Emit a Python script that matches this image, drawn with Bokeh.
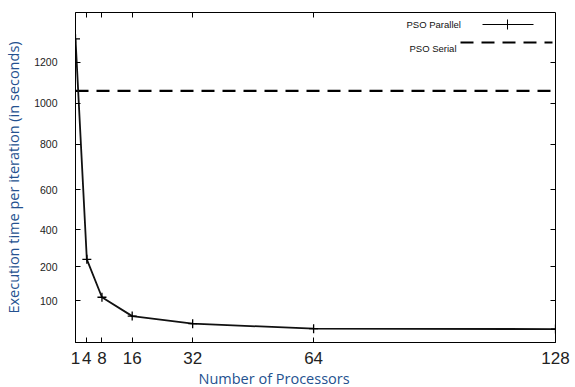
import numpy as np
from bokeh.plotting import figure
from bokeh.models import (Range1d, FixedTicker, CustomJSTransform, ColumnDataSource,
                          Label, Arrow, Title, LinearAxis)
from bokeh.transform import transform
from bokeh.embed import file_html
from bokeh.resources import INLINE

# ---- data ----
processors = [1, 4, 8, 16, 32, 64, 128]
pso_parallel = [1315, 240, 110, 63, 45, 33, 32]
pso_serial_time = 1060
x_ticks = [1, 4, 8, 16, 32, 64, 128]
y_tick_labels = [100, 200, 400, 600, 800, 1000, 1200]

# piecewise-linear value scale of the original axis (value -> axis units)
scale_values = [0, 100, 200, 400, 600, 800, 1000, 1200, 1400]
scale_units = [0, 42, 76, 113, 153, 199, 240, 281, 322]

ymap = CustomJSTransform(args=dict(kv=scale_values, kd=scale_units), v_func="""
const out = new Array(xs.length)
for (let i = 0; i < xs.length; i++) {
  const v = xs[i]
  let j = 0
  while (j < kv.length - 2 && v > kv[j+1]) j++
  out[i] = kd[j] + (v - kv[j]) * (kd[j+1] - kd[j]) / (kv[j+1] - kv[j])
}
return out
""")

src_par = ColumnDataSource(dict(x=processors, y=pso_parallel))
src_ser = ColumnDataSource(dict(x=[processors[0], processors[-1]],
                                y=[pso_serial_time, pso_serial_time]))

p = figure(width=575, height=387, output_backend="svg", toolbar_location=None,
           x_range=Range1d(1, 128), y_range=Range1d(0, 331),
           min_border_left=75, min_border_right=20, min_border_top=12, min_border_bottom=44)
p.xgrid.visible = False
p.ygrid.visible = False
p.outline_line_color = "black"
p.outline_line_width = 1
p.background_fill_color = "white"

p.line('x', transform('y', ymap), source=src_ser, line_color="black", line_width=2.2,
       line_dash="13 8")
p.line('x', transform('y', ymap), source=src_par, line_color="#111111", line_width=1.8)
p.scatter('x', transform('y', ymap), source=src_par, marker="cross", size=9,
          line_color="black", line_width=1.3)

# x axis
xa = p.xaxis[0]
xa.ticker = FixedTicker(ticks=x_ticks)
xa.major_tick_in = 5
xa.major_tick_out = 0
xa.minor_tick_line_color = None
xa.major_label_text_font = "Liberation Sans"
xa.major_label_text_font_size = "17px"
xa.major_label_text_color = "#222222"
xa.major_label_standoff = 9
xa.axis_line_color = "black"

# y axis
ya = p.yaxis[0]
y_tick_pos = list(np.interp(y_tick_labels, scale_values, scale_units))
ya.ticker = FixedTicker(ticks=y_tick_pos)
ya.major_label_overrides = {float(t): str(l) for t, l in zip(y_tick_pos, y_tick_labels)}
ya.major_tick_in = 5
ya.major_tick_out = 0
ya.minor_tick_line_color = None
ya.major_label_text_font = "Liberation Sans"
ya.major_label_text_font_size = "10.5px"
ya.major_label_text_color = "#222222"
ya.major_label_standoff = 18
ya.axis_label = "Execution time per iteration (in seconds)"
ya.axis_label_text_font = "Open Sans"
ya.axis_label_text_font_style = "normal"
ya.axis_label_text_font_size = "14.5px"
ya.axis_label_text_color = "#24518f"
ya.axis_label_standoff = 8

# mirror tick marks on the top and right borders (gnuplot style)
top_ax = LinearAxis(ticker=FixedTicker(ticks=x_ticks[1:-1]), major_tick_in=5,
                    major_tick_out=0, minor_tick_line_color=None, axis_line_color=None,
                    major_label_text_font_size="0px", major_label_standoff=0)
top_ax.major_label_overrides = {t: "" for t in x_ticks[1:-1]}
p.add_layout(top_ax, "above")
right_ax = LinearAxis(ticker=FixedTicker(ticks=y_tick_pos), major_tick_in=5,
                      major_tick_out=0, minor_tick_line_color=None, axis_line_color=None,
                      major_label_text_font_size="0px", major_label_standoff=0)
right_ax.major_label_overrides = {float(t): "" for t in y_tick_pos}
p.add_layout(right_ax, "right")

# x title (offset to the left like the original)
p.add_layout(Title(text="Number of Processors", align="left", offset=123,
                   text_font="Open Sans", text_font_style="normal",
                   text_font_size="14.5px", text_color="#24518f", standoff=0), "below")

# legend drawn gnuplot style (text then sample)
lab_style = dict(x_units="screen", y_units="screen", text_font="Liberation Sans",
                 text_font_size="9.5px", text_color="#111111", text_baseline="middle")
p.add_layout(Label(x=331, y=318, text="PSO Parallel", **lab_style))
p.add_layout(Label(x=334, y=294, text="PSO Serial", **lab_style))
p.add_layout(Arrow(x_start=407, y_start=318, x_end=458, y_end=318,
                   start_units="screen", end_units="screen", start=None, end=None,
                   line_color="black", line_width=1))
p.add_layout(Arrow(x_start=432, y_start=313, x_end=432, y_end=323,
                   start_units="screen", end_units="screen", start=None, end=None,
                   line_color="black", line_width=1))
p.add_layout(Arrow(x_start=385, y_start=300, x_end=477, y_end=300,
                   start_units="screen", end_units="screen", start=None, end=None,
                   line_color="black", line_width=2.2, line_dash="13 8"))

open("out.html", "w").write(file_html(p, INLINE))
